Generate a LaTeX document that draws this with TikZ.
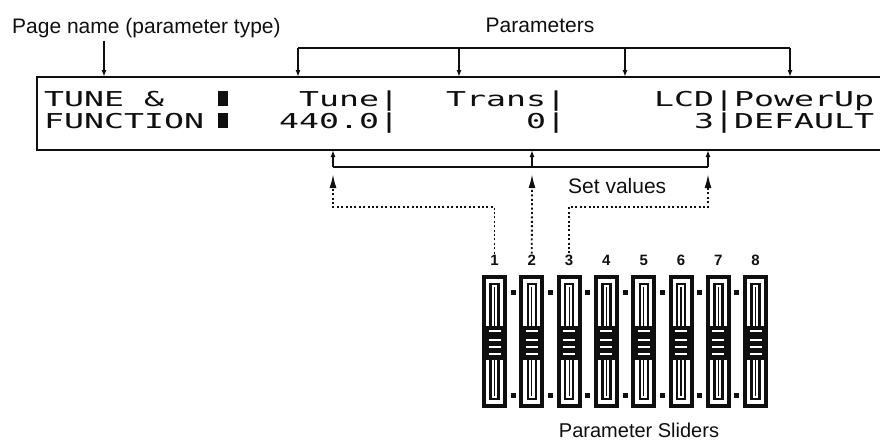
\documentclass[tikz,border=0pt]{standalone}
\usepackage{fontspec}
\usepackage{graphicx}
\usetikzlibrary{arrows.meta,positioning}
\setmainfont{Liberation Sans}
\newfontfamily\lcdfont{DejaVu Sans Mono}
\definecolor{InkBlack}{RGB}{15,15,15}

% wide dot-matrix look for the display text
\newcommand{\lcdtxt}[1]{\scalebox{1.62}[1]{\lcdfont\fontsize{20.5}{22}\selectfont #1}}

\begin{document}
\begin{tikzpicture}[x=1pt, y=-1pt, InkBlack,
    lbl/.style={font=\fontsize{21}{24}\selectfont, inner sep=0pt},
    lcd/.style={anchor=base west, inner sep=0pt},
    numlbl/.style={font=\bfseries\fontsize{15}{16}\selectfont, inner sep=1pt},
    frame/.style={line width=1.7pt},
    edgearrow/.style={line width=1.5pt, -{Latex[length=7pt,width=5pt]}},
    setarrow/.style={line width=1.8pt, dash pattern=on 2pt off 2.4pt, -{Latex[length=14pt,width=7pt]}}]
    \useasboundingbox (0,0) rectangle (880,445);

    % Display (open to the right)
    \draw[frame] (880,77) -- (37,77) -- (37,150) -- (880,150);
    \node[lcd] (name1) at (44,106) {\lcdtxt{TUNE \&}};
    \node[lcd] (name2) at (44,128) {\lcdtxt{FUNCTION}};
    \fill (218,91) rectangle (228,106);
    \fill (218,113) rectangle (228,128);
    \node[lcd] (tune) at (299,106) {\lcdtxt{Tune|}};
    \node[lcd] (tuneval) at (279,128) {\lcdtxt{440.0|}};
    \node[lcd] (trans) at (446,106) {\lcdtxt{Trans|}};
    \node[lcd] (transval) at (526,128) {\lcdtxt{0|}};
    \node[lcd] (lcdpow) at (654,106) {\lcdtxt{LCD|PowerUp}};
    \node[lcd] (lcdval) at (694,128) {\lcdtxt{3|DEFAULT}};

    % Page name
    \node[lbl, anchor=base west] (pagename) at (12,33) {Page name (parameter type)};
    \coordinate (pagetip) at (104,77);
    \draw[edgearrow] (pagename.south -| pagetip) ++(0,3) -- (pagetip);

    % Parameters bracket
    \node[lbl, anchor=base] (params) at (540,32) {Parameters};
    \coordinate (ptop) at (0,48);
    \foreach \n/\x in {p1/298, p2/459, p3/625, p4/790} {
      \coordinate (\n) at (\x,77);
    }
    \draw[line width=1.5pt] (p1 |- ptop) -- (p4 |- ptop);
    \foreach \n in {p1,p2,p3,p4} {
      \draw[edgearrow] (\n |- ptop) -- (\n);
    }

    % Set values bracket
    \coordinate (vbar) at (0,167);
    \foreach \n/\x in {v1/333, v2/532, v3/708} {
      \coordinate (\n) at (\x,150);
    }
    \draw[line width=1.5pt] (v1 |- vbar) -- (v3 |- vbar);
    \foreach \n in {v1,v2,v3} {
      \draw[edgearrow] (\n |- vbar) -- (\n);
    }
    \node[lbl, anchor=base west] (setvals) at (568,193) {Set values};

    % Sliders
    \foreach \i in {1,...,8} {
      \pgfmathsetmacro\cx{494.5+37.3*(\i-1)}
      \node[numlbl] (num\i) at (\cx,260) {\i};
      \draw[line width=4pt, fill=white] (\cx-10.5,277) rectangle (\cx+10.5,406);
      \draw[line width=2.4pt] (\cx-4,284) rectangle (\cx+4,399);
      \draw[line width=1.2pt] (\cx,287) -- (\cx,396);
      \fill (\cx-9,326) rectangle (\cx+9,360);
      \foreach \yy in {331,340,347,354} {
        \draw[white, line width=1.4pt] (\cx-6,\yy) -- (\cx+6,\yy);
      }
    }
    % small marks between sliders
    \foreach \i in {1,...,7} {
      \pgfmathsetmacro\mx{494.5+37.3*(\i-1)+18.65}
      \fill (\mx-2.5,290) rectangle (\mx+2.5,295);
      \fill (\mx-2.5,393) rectangle (\mx+2.5,398);
    }
    \node[lbl, font=\fontsize{20}{22}\selectfont, anchor=base] (sliders) at (639,437) {Parameter Sliders};

    % Dotted links from sliders to values
    \coordinate (tipline) at (0,174);
    \coordinate (dotline) at (0,207);
    \draw[setarrow] (num1.north) |- (v1 |- dotline) -- (v1 |- tipline);
    \draw[setarrow] (num2.north) -- (v2 |- tipline);
    \draw[setarrow] (num3.north) |- (v3 |- dotline) -- (v3 |- tipline);
\end{tikzpicture}
\end{document}
